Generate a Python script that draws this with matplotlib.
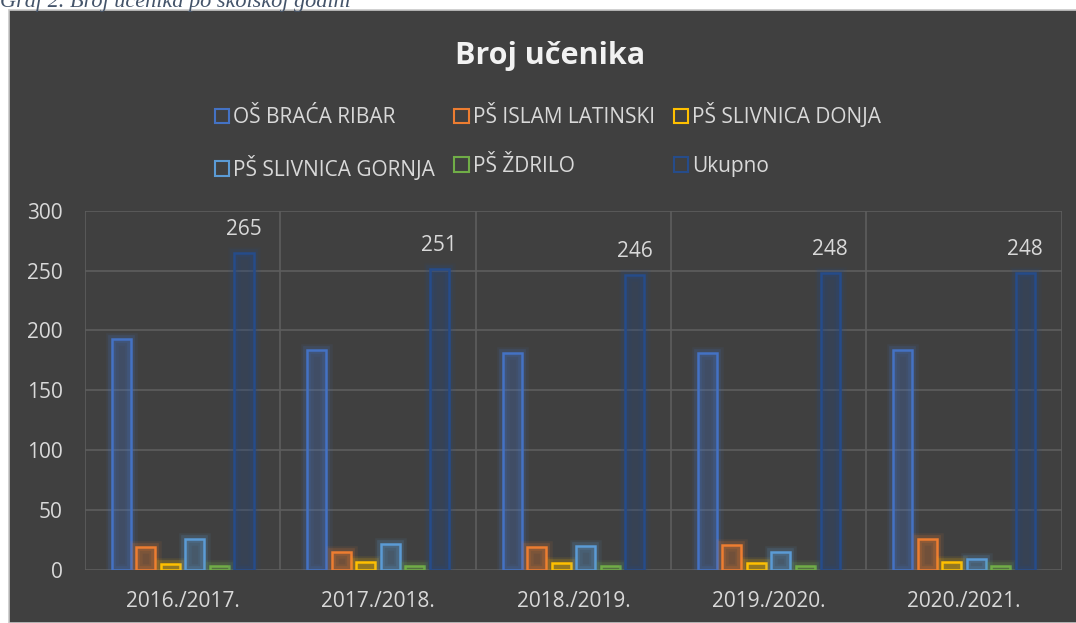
import matplotlib
matplotlib.use("Agg")
import matplotlib.pyplot as plt
import matplotlib.patheffects as pe
from matplotlib.patches import Rectangle
import numpy as np

categories = ["2016./2017.", "2017./2018.", "2018./2019.", "2019./2020.", "2020./2021."]
series_names = ["OŠ BRAĆA RIBAR", "PŠ ISLAM LATINSKI", "PŠ SLIVNICA DONJA",
                "PŠ SLIVNICA GORNJA", "PŠ ŽDRILO", "Ukupno"]
os_braca_ribar = [193, 184, 181, 181, 184]
ps_islam_latinski = [19, 15, 19, 21, 26]
ps_slivnica_donja = [5, 7, 6, 6, 7]
ps_slivnica_gornja = [26, 22, 20, 15, 9]
ps_zdrilo = [3, 3, 3, 3, 3]
ukupno = [265, 251, 246, 248, 248]
y_ticks = [0, 50, 100, 150, 200, 250, 300]

series_values = [os_braca_ribar, ps_islam_latinski, ps_slivnica_donja,
                 ps_slivnica_gornja, ps_zdrilo, ukupno]
colors = ["#4472C4", "#ED7D31", "#FFC000", "#5B9BD5", "#70AD47", "#264C8A"]

FONT = ["Open Sans", "DejaVu Sans"]
TXT = "#D9D9D9"
W, H = 1076, 623

fig = plt.figure(figsize=(W / 100, H / 100), dpi=100)
fig.patch.set_facecolor("white")

# dark chart background
bg = Rectangle((9 / W, 0), 1 - 9 / W + 0.01, 1 - 10 / H, transform=fig.transFigure,
               facecolor="#404040", edgecolor="#C8C8C8", linewidth=1.2, zorder=-10)
fig.patches.append(bg)

# caption (cut off at top, as in the source)
fig.text(0.0, 1 - 7 / H, "Graf 2. Broj učenika po školskoj godini",
         family=["Liberation Serif", "DejaVu Serif"], style="italic",
         fontsize=16, color="#44546A", va="baseline", ha="left")

ax = fig.add_axes([85 / W, 1 - 570 / H, (1061.7 - 85) / W, (570 - 210.7) / H])
ax.set_zorder(1)
ax.patch.set_alpha(0)

n = len(categories)
x = np.arange(n)
step = 0.1256
bw = 0.0974

handles = []
for j, (name, vals, c) in enumerate(zip(series_names, series_values, colors)):
    pos = x + (j - 2.5) * step
    bars = ax.bar(pos, vals, width=bw, facecolor=matplotlib.colors.to_rgba(c, 0.07),
                  edgecolor=c, linewidth=1.8, zorder=3, label=name)
    for b in bars:
        b.set_path_effects([
            pe.Stroke(linewidth=9, foreground=c, alpha=0.09),
            pe.Stroke(linewidth=5.5, foreground=c, alpha=0.16),
            pe.Normal(),
        ])
    handles.append(Rectangle((0, 0), 1, 1, facecolor="none", edgecolor=c, linewidth=1.5))
    if name == "Ukupno":
        for px, v in zip(pos, vals):
            ax.annotate(str(v), (px, v), xytext=(0, 17), textcoords="offset points",
                        ha="center", va="center", fontsize=15, color=TXT,
                        family=FONT, zorder=5)

ax.set_xlim(-0.5, n - 0.5)
ax.set_ylim(0, 300)
ax.set_yticks(y_ticks)
ax.set_xticks(x)
ax.set_xticklabels(categories)
for s in ax.spines.values():
    s.set_visible(False)
grid_c = "#5E5E5E"
for yv in y_ticks:
    ax.axhline(yv, color=grid_c, linewidth=1.2, zorder=1)
for xv in np.arange(-0.5, n, 1.0):
    ax.axvline(xv, color=grid_c, linewidth=1.2, zorder=1)
ax.tick_params(axis="both", length=0, colors=TXT, labelsize=15)
ax.tick_params(axis="y", pad=16)
ax.tick_params(axis="x", pad=15)
for lbl in ax.get_xticklabels() + ax.get_yticklabels():
    lbl.set_family(FONT)
    lbl.set_color(TXT)

# title
fig.text(550 / W, 1 - 56 / H, "Broj učenika", ha="center", va="center",
         fontsize=22, fontweight="bold", color="#F2F2F2", family=FONT)

# legend (row-major order like the source: reorder for column-major filling)
order = [0, 3, 1, 4, 2, 5]
leg = fig.legend([handles[i] for i in order], [series_names[i] for i in order],
                 ncol=3, loc="center",
                 bbox_to_anchor=(548 / W, 1 - 142 / H), frameon=False,
                 prop={"family": FONT, "size": 15}, labelcolor=TXT,
                 handlelength=0.7, handleheight=0.7, handletextpad=0.2,
                 columnspacing=0.9, labelspacing=1.3)
leg.set_zorder(5)

fig.savefig("out.png", dpi=100, facecolor=fig.get_facecolor())
